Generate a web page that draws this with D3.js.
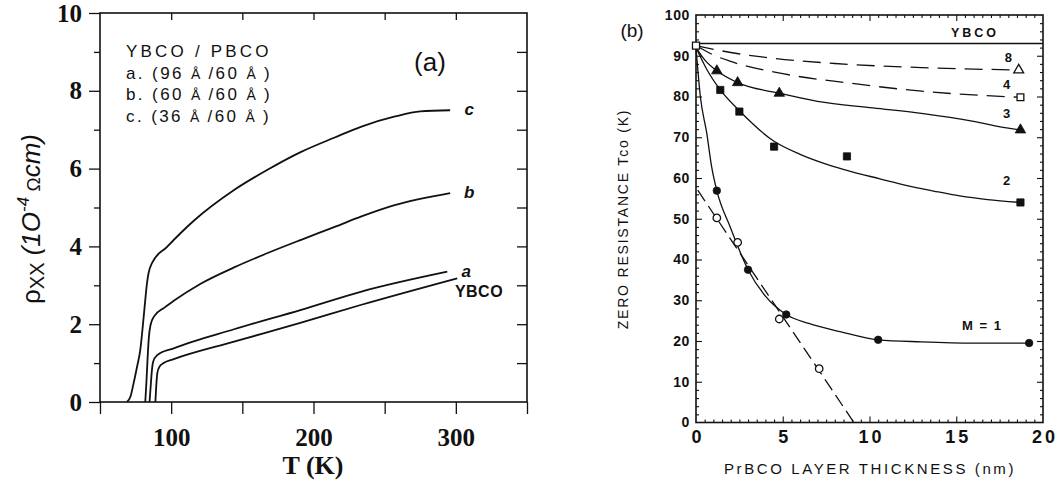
<!DOCTYPE html>
<html>
<head>
<meta charset="utf-8">
<script src="https://cdn.jsdelivr.net/npm/d3@7"></script>
<style>
  body { margin: 0; background: #fff; }
  svg { display: block; }
</style>
</head>
<body>
<svg id="chart" width="1058" height="487"></svg>
<script>
// ---------- Panel (a): rho_xx vs T for YBCO/PBCO superlattices ----------
const curveC    = [[68.9,0],[71.5,0.15],[73.6,0.48],[76,0.9],[78.3,1.34],[80.2,2.0],[81.8,2.62],[83,3.05],[84.1,3.31],[86.5,3.57],[97.1,3.99],[115.9,4.66],[144.2,5.45],[167.7,5.97],[191.3,6.43],[214.9,6.8],[233.7,7.08],[257.3,7.34],[275,7.47],[296,7.5]];
const curveB    = [[81.8,0],[82.6,0.5],[83.4,1.1],[84.3,1.65],[85.5,1.98],[88,2.2],[95,2.42],[101.8,2.6],[120.7,3.04],[144.2,3.46],[167.8,3.83],[191.3,4.17],[214.9,4.5],[233.7,4.77],[257,5.06],[296,5.37]];
const curveA    = [[84.8,0],[85.6,0.4],[86.3,0.75],[87.3,1.03],[90,1.2],[101.8,1.38],[144.2,1.87],[191.3,2.37],[233.7,2.84],[294,3.35]];
const curveYBCO = [[88.9,0],[89.5,0.4],[90.3,0.75],[92,0.92],[94.7,1.0],[101.8,1.1],[144.2,1.55],[191.3,2.04],[233.7,2.5],[301,3.18]];

const xTicksA      = [50, 100, 150, 200, 250, 300, 350];
const xLabelsA     = [100, 200, 300];
const yTicksA      = [0, 1, 2, 3, 4, 5, 6, 7, 8, 9, 10];
const yLabelsA     = [0, 2, 4, 6, 8, 10];
const legendLinesA = ["YBCO / PBCO", "a. (96 Å /60 Å )", "b. (60 Å /60 Å )", "c. (36 Å /60 Å )"];
const curveNamesA  = ["c", "b", "a"];

// ---------- Panel (b): zero-resistance Tc vs PrBCO thickness ----------
const tcYBCO      = 93;
const startPoint  = [[0, 92.5]];
const m8Points    = [[18.6, 86.5]];
const m4Points    = [[18.7, 79.8]];
const m3Points    = [[1.2, 86.3], [2.4, 83.4], [4.8, 80.8], [18.7, 71.8]];
const m2Points    = [[1.4, 81.6], [2.5, 76.3], [4.5, 67.7], [8.7, 65.3], [18.7, 54.0]];
const m1Points    = [[1.2, 56.9], [3.0, 37.5], [5.2, 26.5], [10.5, 20.3], [19.2, 19.5]];
const openCircles = [[1.2, 50.2], [2.4, 44.2], [4.8, 25.4], [7.1, 13.2]];

const fit8 = [[0,92.5],[2,90.8],[4,89.6],[8,88.1],[13,87.1],[18.6,86.5]];
const fit4 = [[0,92.5],[1,90.2],[2,88.6],[5,85.6],[9,83.2],[13,81.3],[18.7,79.8]];
const fit3 = [[0,92],[0.5,89],[1.2,86.3],[2.4,83.4],[4.8,80.8],[7,78.8],[10.2,77.2],[13.1,75.8],[16,73.9],[17.9,72.3],[18.7,71.8]];
const fit2 = [[0,92],[0.6,86.8],[1.4,81.6],[2.5,76.5],[4.5,69],[6,65.8],[7.5,63.4],[9,61.5],[10.6,59.8],[12.1,58.2],[13.7,56.8],[15.2,55.6],[16.8,54.7],[18.7,54]];
const fit1 = [[0,92],[0.25,80],[0.62,71],[0.9,62.8],[1.2,56.9],[1.96,48.1],[3.0,37.5],[4,31],[5.2,26.5],[6.5,24.3],[8.3,22.3],[10.5,20.3],[13,19.8],[16,19.5],[19.2,19.5]];
const fitOpen = [[0.1, 57], [9.1, 0]];

const xLabelsB = [0, 5, 10, 15, 20];
const yLabelsB = [0, 10, 20, 30, 40, 50, 60, 70, 80, 90, 100];
const seriesLabelsB = [["8", 18, 88.5], ["4", 17.9, 81.8], ["3", 17.9, 74.8], ["2", 17.9, 58.3], ["M = 1", 16.5, 22.6]];

const svg = d3.select("#chart");
svg.append("rect").attr("width", 1058).attr("height", 487).attr("fill", "#fff");

// ================= Panel (a) =================
const xA = d3.scaleLinear().domain([50, 350]).range([100, 527]);
const yA = d3.scaleLinear().domain([0, 10]).range([402, 13]);
const gA = svg.append("g");

// left axis: outward ticks, bold serif labels on even values
const leftA = gA.append("g").attr("transform", `translate(${xA.range()[0]},0)`)
  .call(d3.axisLeft(yA).tickValues(yTicksA).tickSize(9).tickSizeOuter(0)
        .tickFormat(d => yLabelsA.includes(d) ? d : ""));
leftA.selectAll(".tick line").attr("stroke", "#111").attr("stroke-width", 1.3)
  .attr("x2", d => yLabelsA.includes(d) ? -11 : -6);
leftA.selectAll(".tick text").attr("x", -18)
  .attr("font-family", "Liberation Serif, serif").attr("font-weight", "bold")
  .attr("font-size", 25).attr("fill", "#111");

// bottom axis: outward ticks
const botA = gA.append("g").attr("transform", `translate(0,${yA.range()[0]})`)
  .call(d3.axisBottom(xA).tickValues(xTicksA).tickSize(12).tickSizeOuter(0)
        .tickFormat(d => xLabelsA.includes(d) ? d : ""));
botA.selectAll(".tick line").attr("stroke", "#111").attr("stroke-width", 1.3);
botA.selectAll(".tick text").attr("y", 26)
  .attr("font-family", "Liberation Serif, serif").attr("font-weight", "bold")
  .attr("font-size", 25).attr("fill", "#111");

// top axis: inward ticks
const topA = gA.append("g").attr("transform", `translate(0,${yA.range()[1]})`)
  .call(d3.axisTop(xA).tickValues([100, 150, 200, 250, 300]).tickSizeInner(-7).tickSizeOuter(0).tickFormat(""));
topA.selectAll(".tick line").attr("stroke", "#111").attr("stroke-width", 1.3);

// right axis: inward ticks
const rightA = gA.append("g").attr("transform", `translate(${xA.range()[1]},0)`)
  .call(d3.axisRight(yA).tickValues(yTicksA.slice(1, -1)).tickSizeInner(-10).tickSizeOuter(0).tickFormat(""));
rightA.selectAll(".tick line").attr("stroke", "#111").attr("stroke-width", 1.3);
[leftA, botA, topA, rightA].forEach(g => g.select(".domain").remove());

gA.append("rect")
  .attr("x", xA.range()[0]).attr("y", yA.range()[1])
  .attr("width", xA.range()[1] - xA.range()[0]).attr("height", yA.range()[0] - yA.range()[1])
  .attr("fill", "none").attr("stroke", "#111").attr("stroke-width", 1.6);

const lineA = d3.line().x(d => xA(d[0])).y(d => yA(d[1])).curve(d3.curveMonotoneX);
[curveC, curveB, curveA, curveYBCO].forEach(c => {
  gA.append("path").datum(c).attr("d", lineA)
    .attr("fill", "none").attr("stroke", "#111").attr("stroke-width", 1.8);
});

// curve names at the right ends
const endsA = [curveC, curveB, curveA];
curveNamesA.forEach((n, i) => {
  const last = endsA[i][endsA[i].length - 1];
  gA.append("text").text(n)
    .attr("x", xA(last[0]) + 19).attr("y", yA(last[1]) + 5)
    .attr("font-family", "Liberation Sans, Arial, sans-serif")
    .attr("font-weight", "bold").attr("font-style", "italic")
    .attr("font-size", 17).attr("text-anchor", "middle").attr("fill", "#111");
});
gA.append("text").text("YBCO")
  .attr("x", 479).attr("y", 297)
  .attr("font-family", "Liberation Sans, Arial, sans-serif").attr("font-weight", "bold")
  .attr("font-size", 16).attr("letter-spacing", 0.5).attr("text-anchor", "middle").attr("fill", "#111");

// legend block; the Ångström signs are set a little smaller
legendLinesA.forEach((t, i) => {
  const txt = gA.append("text")
    .attr("x", 126).attr("y", 57 + i * 21.6)
    .attr("font-family", "Liberation Sans, Arial, sans-serif")
    .attr("font-size", 17).attr("letter-spacing", i === 0 ? 3.2 : 2.4).attr("fill", "#111");
  t.split(/(Å)/).forEach(part => {
    const s = txt.append("tspan").text(part);
    if (part === "Å") s.attr("font-size", 14).attr("letter-spacing", 1);
  });
});
gA.append("text").text("(a)")
  .attr("x", 430).attr("y", 71)
  .attr("font-family", "Liberation Sans, Arial, sans-serif")
  .attr("font-size", 26).attr("text-anchor", "middle").attr("fill", "#111");

// axis titles
gA.append("text").text("T (K)")
  .attr("x", 313).attr("y", 474)
  .attr("font-family", "Liberation Serif, serif").attr("font-weight", "bold")
  .attr("font-size", 26).attr("text-anchor", "middle").attr("fill", "#111");

const yTitleA = gA.append("text")
  .attr("transform", "translate(40,219) rotate(-90)")
  .attr("font-family", "Liberation Sans, Arial, sans-serif")
  .attr("font-size", 26).attr("text-anchor", "middle").attr("fill", "#111");
yTitleA.append("tspan").text("ρ");
yTitleA.append("tspan").text("XX").attr("font-size", 20).attr("dy", 4);
yTitleA.append("tspan").text(" (1O").attr("font-style", "italic").attr("dy", -4);
yTitleA.append("tspan").text("-4").attr("font-style", "italic").attr("font-size", 17).attr("dy", -11);
yTitleA.append("tspan").text(" Ω").attr("font-size", 19).attr("font-weight", "300").attr("dy", 11);
yTitleA.append("tspan").text("cm)").attr("font-style", "italic");

// ================= Panel (b) =================
const xB = d3.scaleLinear().domain([0, 20]).range([696, 1043]);
const yB = d3.scaleLinear().domain([0, 100]).range([422.5, 15]);
const gB = svg.append("g");
const fontB = "Liberation Sans, Arial, sans-serif";

function ticksB(axisFn, scale, values, size, transform) {
  const g = gB.append("g").attr("transform", transform)
    .call(axisFn(scale).tickValues(values).tickSizeInner(-size).tickSizeOuter(0).tickFormat(""));
  g.select(".domain").remove();
  g.selectAll(".tick line").attr("stroke", "#111").attr("stroke-width", 1.1);
}
const xMinorB = d3.range(0.5, 20, 0.5).filter(v => v % 5 !== 0);
const xMajorB = [5, 10, 15];
const yMinorB = d3.range(2, 100, 2).filter(v => v % 10 !== 0);
const yMajorB = d3.range(10, 100, 10);
ticksB(d3.axisBottom, xB, xMinorB, 3, `translate(0,${yB(0)})`);
ticksB(d3.axisBottom, xB, xMajorB, 6, `translate(0,${yB(0)})`);
ticksB(d3.axisTop, xB, xMinorB, 3, `translate(0,${yB(100)})`);
ticksB(d3.axisTop, xB, xMajorB, 6, `translate(0,${yB(100)})`);
ticksB(d3.axisLeft, yB, yMinorB, 3, `translate(${xB(0)},0)`);
ticksB(d3.axisLeft, yB, yMajorB, 6, `translate(${xB(0)},0)`);
ticksB(d3.axisRight, yB, yMinorB, 3, `translate(${xB(20)},0)`);
ticksB(d3.axisRight, yB, yMajorB, 6, `translate(${xB(20)},0)`);

// tick labels via the axis generators
const yLabB = gB.append("g").attr("transform", `translate(${xB(0)},0)`)
  .call(d3.axisLeft(yB).tickValues(yLabelsB).tickSize(0).tickPadding(6));
yLabB.select(".domain").remove();
yLabB.selectAll(".tick text").attr("font-family", fontB).attr("font-weight", "bold")
  .attr("font-size", 14).attr("letter-spacing", 0.6).attr("fill", "#111");

const xLabB = gB.append("g").attr("transform", `translate(0,${yB(0)})`)
  .call(d3.axisBottom(xB).tickValues(xLabelsB).tickSize(0).tickPadding(8));
xLabB.select(".domain").remove();
xLabB.selectAll(".tick text").attr("font-family", fontB).attr("font-weight", "bold")
  .attr("font-size", 18).attr("letter-spacing", 3).attr("fill", "#111")
  .attr("dx", 1.5);

gB.append("rect")
  .attr("x", xB(0)).attr("y", yB(100))
  .attr("width", xB(20) - xB(0)).attr("height", yB(0) - yB(100))
  .attr("fill", "none").attr("stroke", "#111").attr("stroke-width", 1.6);

// YBCO reference Tc
gB.append("line")
  .attr("x1", xB(0)).attr("x2", xB(20)).attr("y1", yB(tcYBCO)).attr("y2", yB(tcYBCO))
  .attr("stroke", "#111").attr("stroke-width", 1.6);

const lineB = d3.line().x(d => xB(d[0])).y(d => yB(d[1])).curve(d3.curveMonotoneX);
const fits = [
  [fit8, "18,9"], [fit4, "18,9"], [fit3, null], [fit2, null], [fit1, null], [fitOpen, "13,6"]
];
fits.forEach(([data, dash]) => {
  const p = gB.append("path").datum(data).attr("d", lineB)
    .attr("fill", "none").attr("stroke", "#111").attr("stroke-width", 1.3);
  if (dash) p.attr("stroke-dasharray", dash);
});

function markers(data, type, size, filled) {
  gB.selectAll(null).data(data).enter().append("path")
    .attr("d", d3.symbol().type(type).size(size))
    .attr("transform", d => `translate(${xB(d[0])},${yB(d[1])})`)
    .attr("fill", filled ? "#111" : "#fff")
    .attr("stroke", "#111").attr("stroke-width", filled ? 0.8 : 1.3);
}
markers(m2Points, d3.symbolSquare, 52, true);
markers(m3Points, d3.symbolTriangle, 48, true);
markers(m1Points, d3.symbolCircle, 44, true);
markers(openCircles, d3.symbolCircle, 44, false);
markers(m8Points, d3.symbolTriangle, 42, false);
markers(m4Points, d3.symbolSquare, 46, false);
markers(startPoint, d3.symbolSquare, 50, false);

// series labels
gB.append("text").text("YBCO")
  .attr("x", 975).attr("y", 37)
  .attr("font-family", fontB).attr("font-weight", "bold")
  .attr("font-size", 12.5).attr("letter-spacing", 3).attr("text-anchor", "middle").attr("fill", "#111");
seriesLabelsB.forEach(([t, x, y]) => {
  gB.append("text").text(t)
    .attr("x", xB(x)).attr("y", yB(y))
    .attr("font-family", fontB).attr("font-weight", "bold")
    .attr("font-size", 13).attr("letter-spacing", t.length > 1 ? 1.5 : 0)
    .attr("text-anchor", "middle").attr("fill", "#111");
});

gB.append("text").text("(b)")
  .attr("x", 632).attr("y", 37)
  .attr("font-family", fontB).attr("font-size", 19)
  .attr("text-anchor", "middle").attr("fill", "#111");

// axis titles
gB.append("text").text("PrBCO LAYER THICKNESS (nm)")
  .attr("x", 870).attr("y", 474)
  .attr("font-family", fontB).attr("font-size", 15).attr("letter-spacing", 2.6)
  .attr("text-anchor", "middle").attr("fill", "#111");
gB.append("text").text("ZERO RESISTANCE Tco (K)")
  .attr("transform", "translate(628,219) rotate(-90)")
  .attr("font-family", fontB).attr("font-size", 14).attr("letter-spacing", 1.8)
  .attr("text-anchor", "middle").attr("fill", "#111");
</script>
</body>
</html>
